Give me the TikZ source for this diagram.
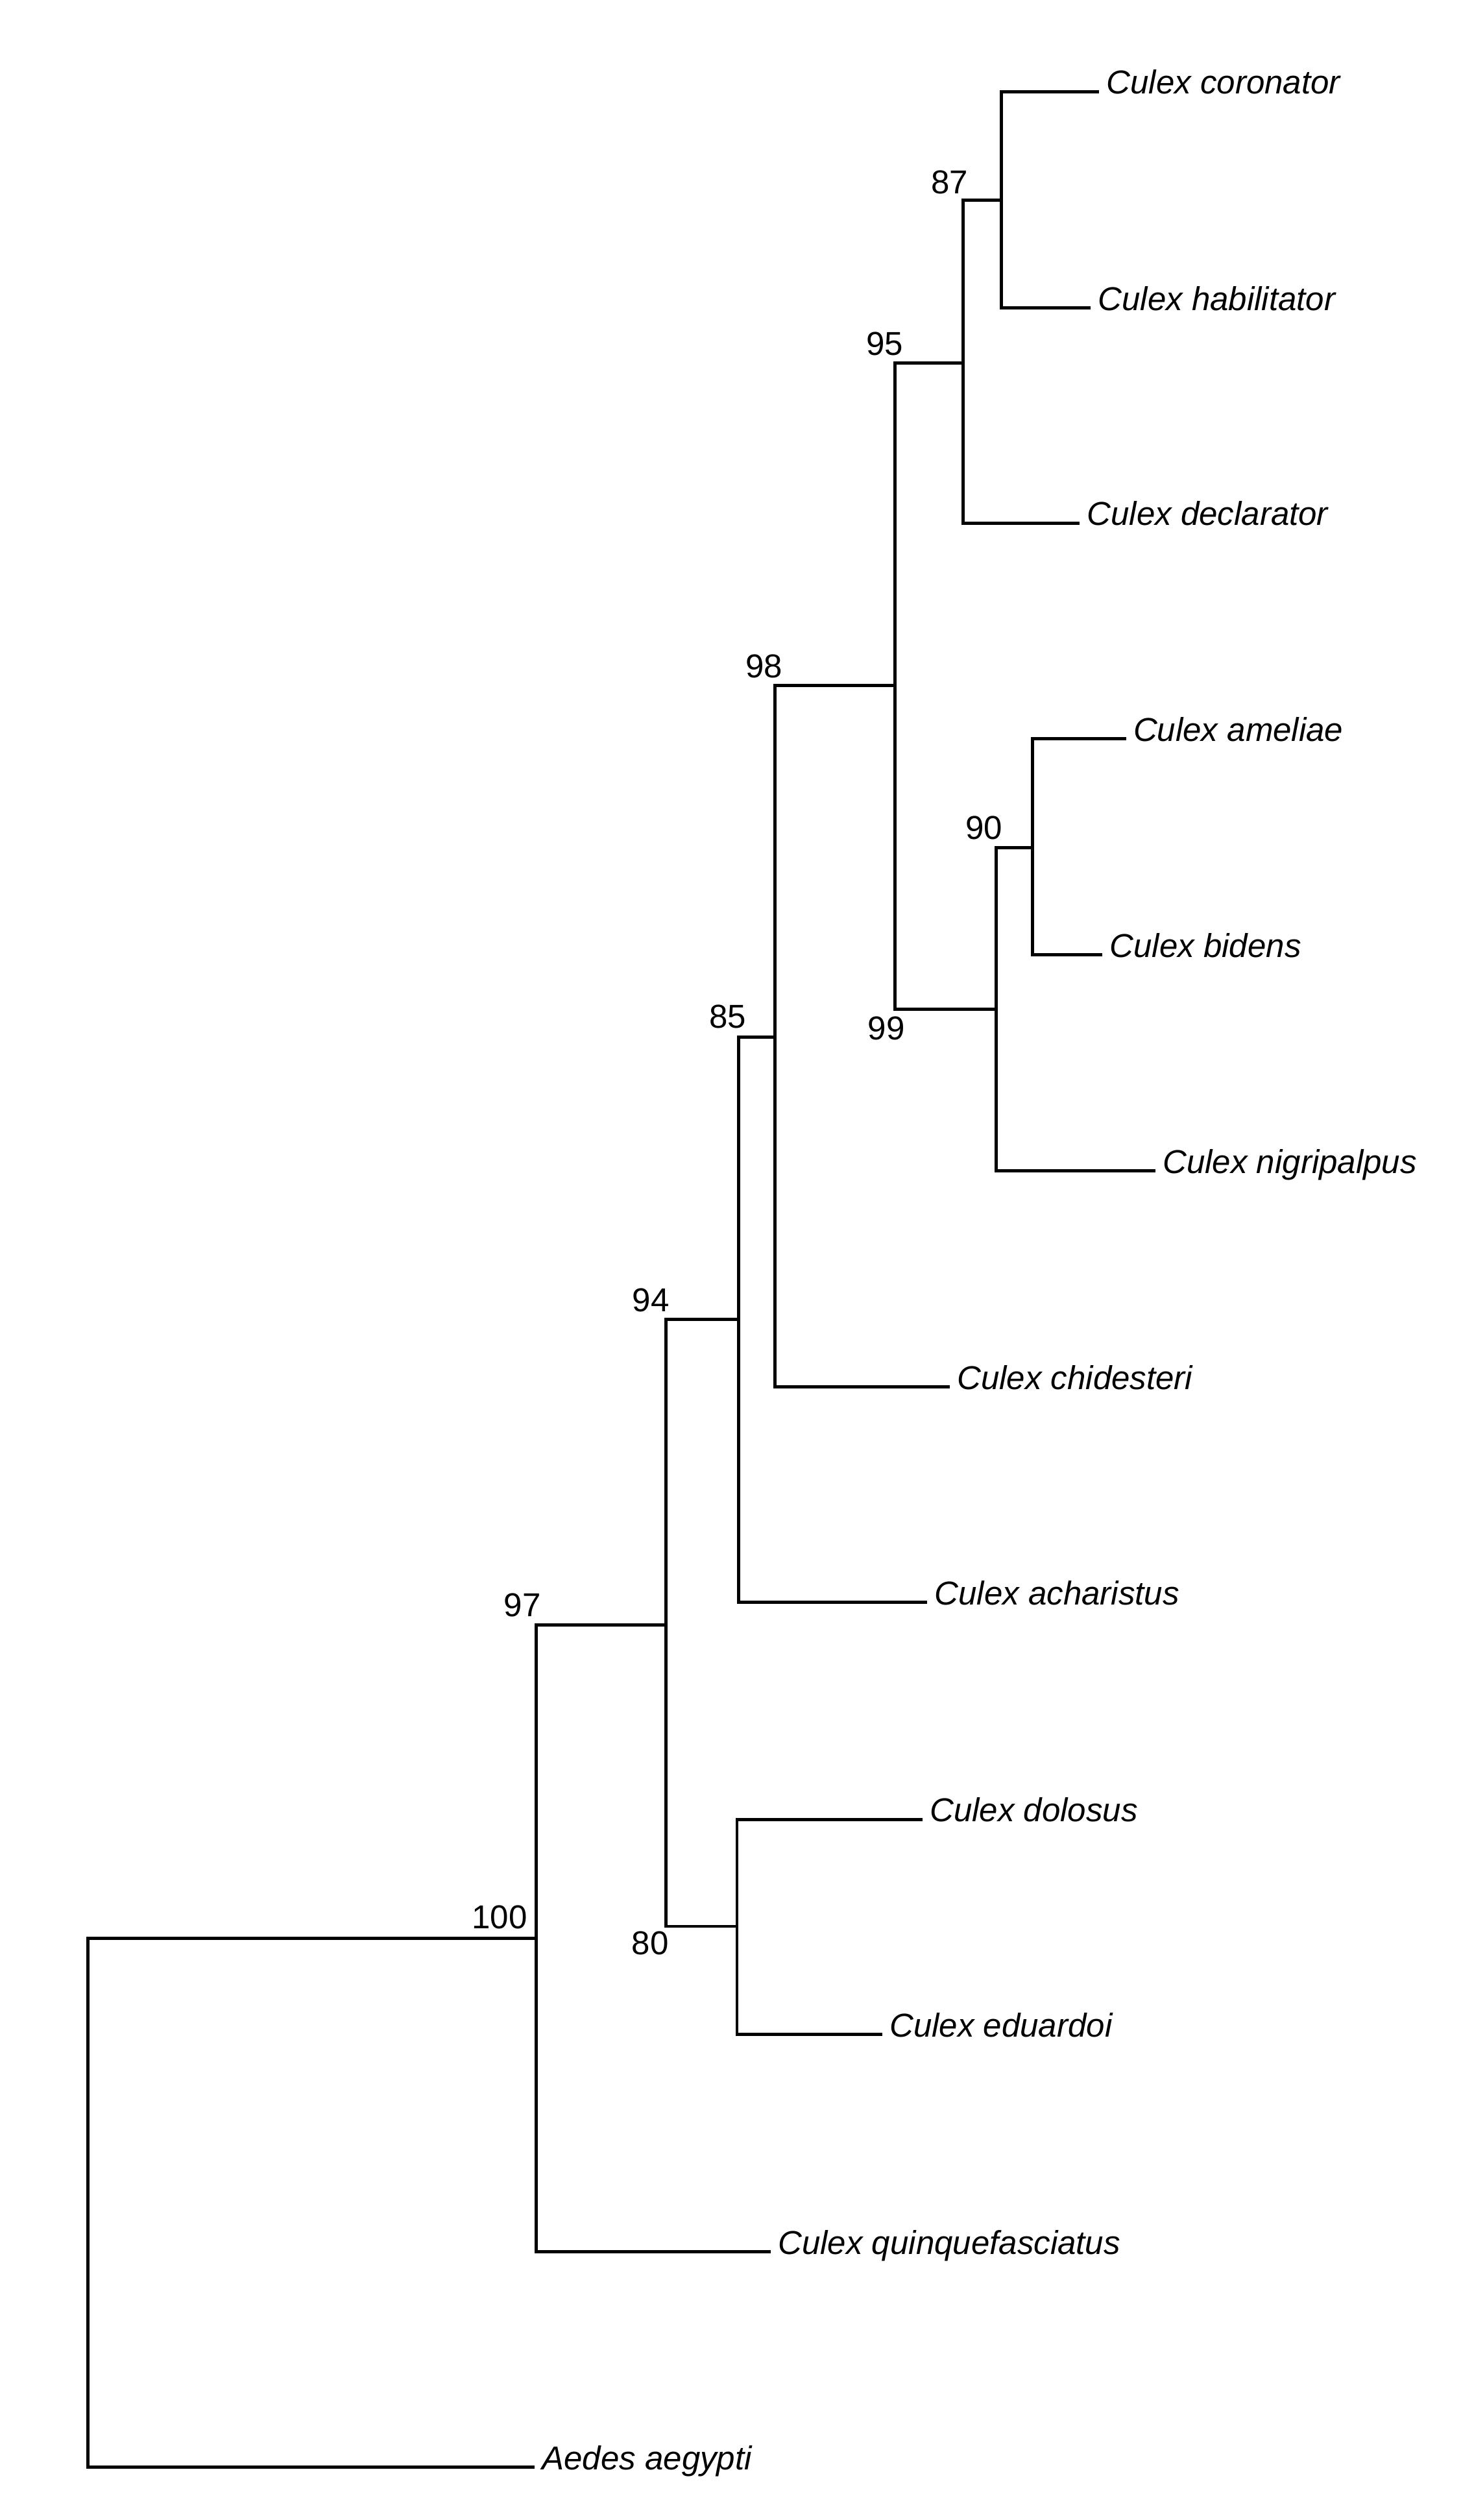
\documentclass[tikz,border=0pt]{standalone}
\usepackage{fontspec}
\setmainfont{Liberation Sans}
\begin{document}
\begin{tikzpicture}[x=0.5pt,y=-0.5pt,line width=1pt,
  every node/.style={font=\fontsize{10.3}{12}\selectfont,inner sep=0pt},
  taxon/.style={anchor=base west,xshift=1.8pt,yshift=-0.75pt,font=\fontsize{10.3}{12}\selectfont\itshape},
  boot/.style={anchor=base east}]
\useasboundingbox (0,0) rectangle (917,1568);
% internal nodes
\coordinate (root) at (54.7,1370);
\coordinate (n100) at (333.5,1206);
\coordinate (n97) at (414.4,1011);
\coordinate (n80) at (458.6,1198.6);
\coordinate (n94) at (459.8,821);
\coordinate (n85) at (482.4,645.3);
\coordinate (n98) at (557,426.7);
\coordinate (n99) at (619.8,628);
\coordinate (n90) at (642.3,527.6);
\coordinate (n95) at (599.3,225.7);
\coordinate (n87) at (623.2,124.4);
% tips
\foreach \n/\x/\y/\t in {cor/684/57/Culex coronator,hab/678.7/191.7/Culex habilitator,
  dec/671.8/325.5/Culex declarator,ame/700.7/459.7/Culex ameliae,bid/686/594/Culex bidens,
  nig/719/728.6/Culex nigripalpus,chi/591/863/Culex chidesteri,ach/577/997/Culex acharistus,
  dol/574/1132/Culex dolosus,edu/549/1266/Culex eduardoi,qui/479.6/1401/Culex quinquefasciatus,
  aed/332.7/1535/Aedes aegypti}
  {\coordinate (t-\n) at (\x,\y);
   \node[taxon] (\n) at (t-\n) {\t};}
% branches
\foreach \a/\b in {root/n100,root/t-aed,n100/n97,n100/t-qui,n97/n94,n97/n80,
  n80/t-dol,n80/t-edu,n94/n85,n94/t-ach,n85/n98,n85/t-chi,n98/n95,n98/n99,
  n99/n90,n99/t-nig,n90/t-ame,n90/t-bid,n95/n87,n95/t-dec,n87/t-cor,n87/t-hab}
  \draw (\a) |- (\b);
% bootstrap values
\node[boot] (b87) at ([shift={(4,-3.7)}]n95 |- n87) {87};
\node[boot] (b95) at ([shift={(6,-4.7)}]n98 |- n95) {95};
\node[boot] (b98) at ([shift={(5.6,-5)}]n85 |- n98) {98};
\node[boot] (b90) at ([shift={(5,-5.6)}]n99 |- n90) {90};
\node[boot] (b99) at ([shift={(7,19)}]n98 |- n99) {99};
\node[boot] (b85) at ([shift={(5.6,-5.8)}]n94 |- n85) {85};
\node[boot] (b94) at ([shift={(3,-5)}]n97 |- n94) {94};
\node[boot] (b97) at ([shift={(4,-5)}]n100 |- n97) {97};
\node[boot] (b80) at ([shift={(2.6,17.4)}]n97 |- n80) {80};
\node[boot] (b100) at ([shift={(-4.5,-6)}]n100) {100};
\end{tikzpicture}
\end{document}
